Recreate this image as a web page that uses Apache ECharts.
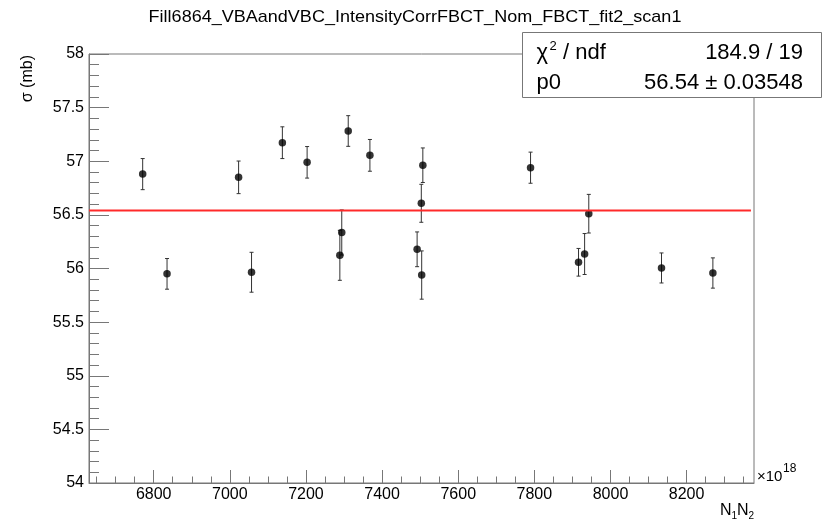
<!DOCTYPE html>
<html><head><meta charset="utf-8">
<script src="https://cdn.jsdelivr.net/npm/echarts@6/dist/echarts.min.js"></script>
<style>html,body{margin:0;padding:0;background:#fff}#c{width:825px;height:526px}</style>
</head><body><div id="c"></div>
<script>
// ---- data ----
const chartTitle = 'Fill6864_VBAandVBC_IntensityCorrFBCT_Nom_FBCT_fit2_scan1';
const xValues = [6771, 6835, 7023, 7057, 7138, 7203, 7289, 7294, 7311, 7368, 7492, 7503, 7504, 7507, 7790, 7916, 7932, 7943, 8134, 8269];
const yValues = [56.88, 55.95, 56.85, 55.965, 57.173, 56.99, 56.123, 56.336, 57.282, 57.055, 56.179, 56.608, 55.939, 56.963, 56.94, 56.058, 56.135, 56.511, 56.005, 55.958];
const yErrors = [0.145, 0.143, 0.152, 0.186, 0.148, 0.147, 0.233, 0.21, 0.143, 0.148, 0.162, 0.177, 0.225, 0.161, 0.145, 0.129, 0.191, 0.18, 0.14, 0.141];
const fitP0 = 56.54;
const fitErr = '0.03548';
const chi2Text = '184.9 / 19';
const xTickLabels = [6800, 7000, 7200, 7400, 7600, 7800, 8000, 8200];
const yTickLabels = [54, 54.5, 55, 55.5, 56, 56.5, 57, 57.5, 58];

// ---- layout ----
const X_MIN = 6630, X_MAX = 8377, FIT_END = 8369;
const Y_MIN = yTickLabels[0], Y_MAX = yTickLabels[yTickLabels.length - 1];
const minorX = [];
for (let v = 6650; v < X_MAX; v += 50) { if (xTickLabels.indexOf(v) < 0) minorX.push(v); }

const FONT = 'Liberation Sans, Arial, Helvetica, sans-serif';
const AX = '#777';

const chart = echarts.init(document.getElementById('c'), null, { renderer: 'canvas' });

const errData = xValues.map((x, i) => [x, yValues[i], yErrors[i]]);
const ptData = xValues.map((x, i) => [x, yValues[i]]);

function txt(x, y, text, size, align, extra) {
  return Object.assign({
    type: 'text', x: x, y: y, z: 100,
    style: { text: text, fontSize: size, fontFamily: FONT, fill: '#000', align: align || 'left', verticalAlign: 'middle' }
  }, extra || {});
}

chart.setOption({
  animation: false,
  textStyle: { fontFamily: FONT },
  grid: { left: 89, right: 71, top: 54, bottom: 43, show: true, borderColor: AX, borderWidth: 1, backgroundColor: 'transparent' },
  xAxis: [{
    type: 'value', position: 'bottom', min: X_MIN, max: X_MAX,
    axisLine: { show: true, lineStyle: { color: AX, width: 1 } },
    axisTick: { show: true, inside: true, length: 13, customValues: xTickLabels, lineStyle: { color: AX } },
    axisLabel: { show: true, customValues: xTickLabels, fontSize: 16, color: '#000', margin: 4, fontFamily: FONT,
      formatter: function (v) { return String(v); } },
    splitLine: { show: false }
  }, {
    type: 'value', position: 'bottom', min: X_MIN, max: X_MAX,
    axisLine: { show: false },
    axisTick: { show: true, inside: true, length: 6.5, customValues: minorX, lineStyle: { color: AX } },
    axisLabel: { show: false },
    splitLine: { show: false }
  }],
  yAxis: {
    type: 'value', min: Y_MIN, max: Y_MAX, interval: 0.5,
    axisLine: { show: true, lineStyle: { color: AX, width: 1 } },
    axisTick: { show: true, inside: true, length: 20, lineStyle: { color: AX } },
    minorTick: { show: true, splitNumber: 5, length: 10, lineStyle: { color: AX } },
    axisLabel: { fontSize: 16, color: '#000', margin: 5, fontFamily: FONT },
    splitLine: { show: false }
  },
  series: [{
    type: 'custom', xAxisIndex: 0, yAxisIndex: 0, data: errData, z: 3,
    renderItem: function (params, api) {
      const x = api.value(0), y = api.value(1), e = api.value(2);
      const t = api.coord([x, y + e]), b = api.coord([x, y - e]);
      const cw = 2, st = { stroke: '#333', lineWidth: 1 };
      return { type: 'group', children: [
        { type: 'line', shape: { x1: t[0], y1: t[1], x2: b[0], y2: b[1] }, style: st },
        { type: 'line', shape: { x1: t[0] - cw, y1: t[1], x2: t[0] + cw, y2: t[1] }, style: st },
        { type: 'line', shape: { x1: b[0] - cw, y1: b[1], x2: b[0] + cw, y2: b[1] }, style: st }
      ]};
    }
  }, {
    type: 'scatter', xAxisIndex: 0, yAxisIndex: 0, data: ptData, symbol: 'circle', symbolSize: 7.5,
    itemStyle: { color: '#000' }, z: 4
  }, {
    type: 'line', xAxisIndex: 0, yAxisIndex: 0, data: [[X_MIN, fitP0], [FIT_END, fitP0]], symbol: 'none',
    lineStyle: { color: '#ff2a2a', width: 2 }, z: 5
  }],
  graphic: [
    txt(415, 17, chartTitle, 17, 'center', { scaleX: 1.06, originX: 0, originY: 0 }),
    txt(28, 55, 'σ (mb)', 16, 'right', { rotation: Math.PI / 2 }),
    // x axis title N1N2
    txt(720, 511, 'N', 16, 'left'),
    txt(731.5, 516, '1', 10, 'left'),
    txt(737, 511, 'N', 16, 'left'),
    txt(748.5, 516, '2', 10, 'left'),
    // exponent
    txt(757, 477, '×10', 15, 'left'),
    txt(783, 469, '18', 12, 'left'),
    // stats box
    { type: 'rect', z: 90, shape: { x: 522.5, y: 32.5, width: 299, height: 65 }, style: { fill: '#fff', stroke: AX, lineWidth: 1 } },
    txt(536.5, 53, 'χ', 22, 'left'),
    txt(549.5, 46, '2', 13, 'left'),
    txt(557, 53, ' / ndf', 22, 'left'),
    txt(803, 53, chi2Text, 22, 'right'),
    txt(536.5, 83, 'p0', 22, 'left'),
    txt(803, 83, fitP0.toFixed(2) + ' ± ' + fitErr, 22, 'right')
  ]
});
</script></body></html>
